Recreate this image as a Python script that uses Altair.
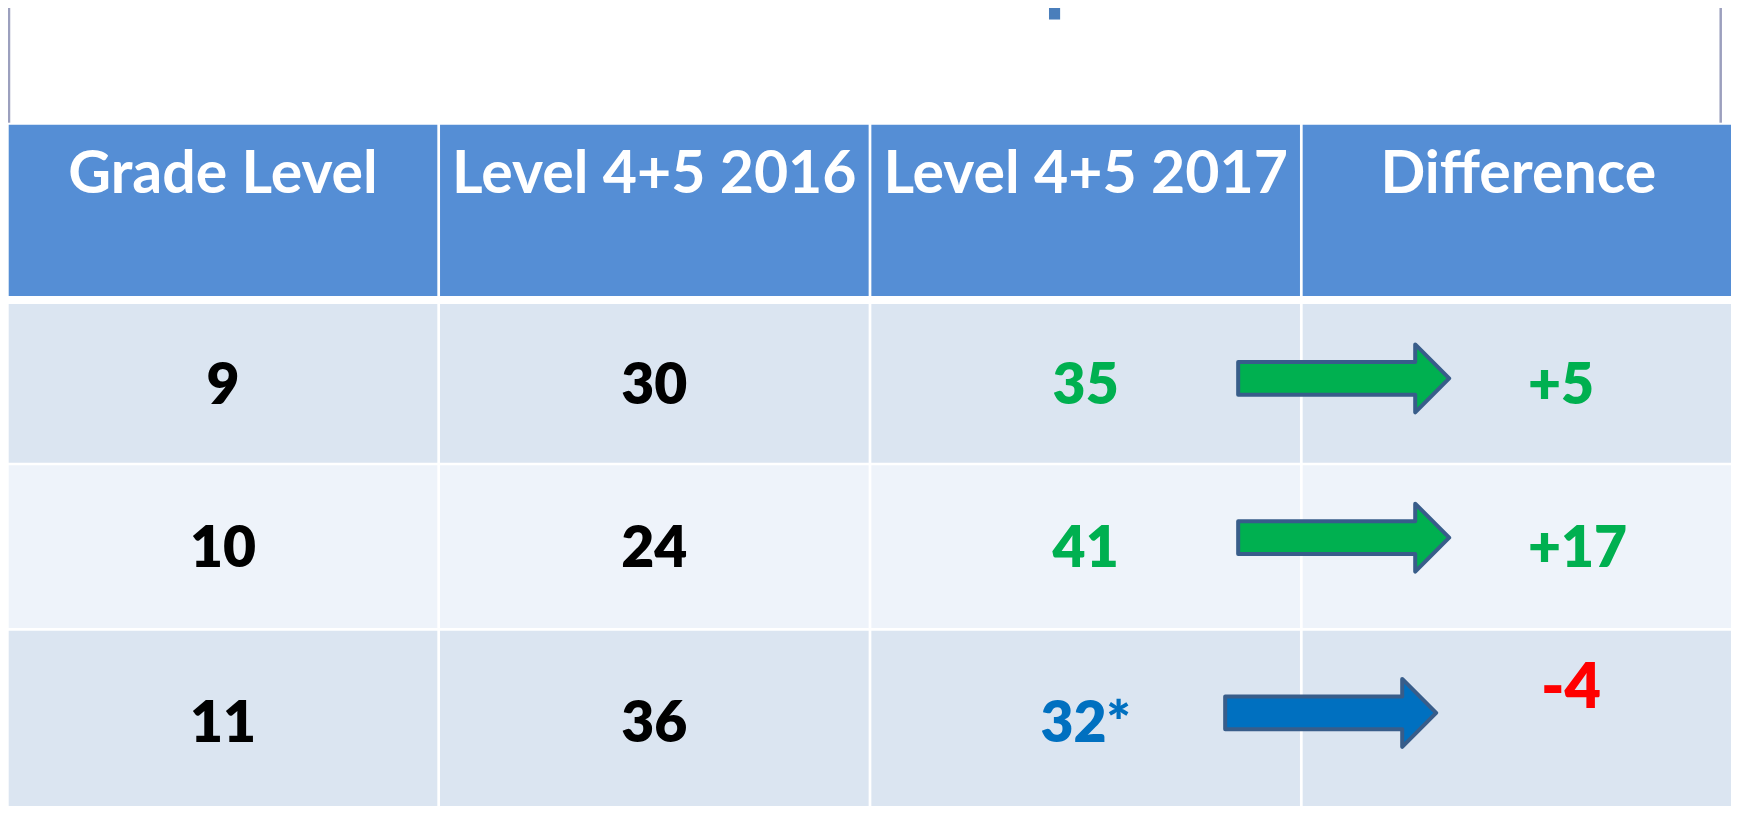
import altair as alt
import pandas as pd

# ---------------- data ----------------
title_text = "Comparison %"
headers = ["Grade Level", "Level 4+5 2016", "Level 4+5 2017", "Difference"]
grades = ["9", "10", "11"]
level_2016 = [30, 24, 36]
level_2017 = [35, 41, 32]
level_2017_note = ["", "", "*"]
difference = [5, 17, -4]

# ---------------- styles ----------------
FONT = "Lato"
BODY_WEIGHT = 800
HEADER_FILL = "#558ED5"
ROW_FILLS = ["#DBE5F1", "#EEF3FA", "#DBE5F1"]
TITLE_COLOR = "#4A7EBB"
FRAME_COLOR = "#9CA0BE"
GREEN = "#00B050"
BLUE = "#0070C0"
RED = "#FF0000"
ARROW_STROKE = "#385D8A"

# ---------------- layout (reference pixel frame) ----------------
PAGE_W, PAGE_H, MARGIN = 1739, 814, 8
CHART_W, CHART_H = PAGE_W - 2 * MARGIN, PAGE_H - 2 * MARGIN
TABLE_LEFT, TABLE_RIGHT = 8.7, 1734
COL_GAP = 2.7
HEADER_Y = (124.7, 296)
ROW_Y = [(304, 462.7), (465.3, 628), (630.7, 813)]
HEADER_BASELINE = 193
DIGIT_HALF = 20.5
DIFF_LEFT = [1528, 1528, 1541]
DIFF_DY = [DIGIT_HALF, DIGIT_HALF, -14]
DIFF_SIZE = [57, 57, 63]
ARROW_DX = [41, 41, 28]
ARROW_DY = [-5, -9, -9]
ARROW_PATH = ("M-1,-0.156 L0.678,-0.156 L0.678,-0.322 L1,0 "
              "L0.678,0.322 L0.678,0.156 L-1,0.156 Z")
ARROW_LEN = 211
TITLE_POS = (1146, 4)
FRAME_X = [9, 1720.7]
FRAME_Y = (0, 122.7)

col_w = (TABLE_RIGHT - TABLE_LEFT) / len(headers)
col_left = [TABLE_LEFT + i * col_w for i in range(len(headers))]
col_right = [l + col_w - COL_GAP for l in col_left[:-1]] + [TABLE_RIGHT]
col_center = [(l + r) / 2 for l, r in zip(col_left, col_right)]
row_center = [(a + b) / 2 for a, b in ROW_Y]

xs = alt.Scale(domain=[MARGIN, MARGIN + CHART_W], range=[0, CHART_W])
ys = alt.Scale(domain=[MARGIN, MARGIN + CHART_H], range=[0, CHART_H])

# ---------------- tables ----------------
cells = []
for i in range(len(headers)):
    cells.append(dict(x=col_left[i], x2=col_right[i], y=HEADER_Y[0], y2=HEADER_Y[1], fill=HEADER_FILL))
    for r, (a, b) in enumerate(ROW_Y):
        cells.append(dict(x=col_left[i], x2=col_right[i], y=a, y2=b, fill=ROW_FILLS[r]))
cells_df = pd.DataFrame(cells)

head_df = pd.DataFrame(dict(x=col_center, y=[HEADER_BASELINE] * len(headers), label=headers))

body = []
for r in range(len(grades)):
    up = difference[r] > 0
    body.append(dict(x=col_center[0], y=row_center[r], label=grades[r], color="#000000"))
    body.append(dict(x=col_center[1], y=row_center[r], label=str(level_2016[r]), color="#000000"))
    body.append(dict(x=col_center[2], y=row_center[r],
                     label=f"{level_2017[r]}{level_2017_note[r]}", color=GREEN if up else BLUE))
body_df = pd.DataFrame(body)

diff_df = pd.DataFrame(dict(
    x=DIFF_LEFT,
    y=[row_center[r] + DIFF_DY[r] for r in range(len(difference))],
    label=[f"{d:+d}" for d in difference],
    color=[GREEN if d > 0 else RED for d in difference],
    size=DIFF_SIZE,
))

arrow_df = pd.DataFrame(dict(
    x=[col_left[3] + ARROW_DX[r] for r in range(len(difference))],
    y=[row_center[r] + ARROW_DY[r] for r in range(len(difference))],
    fill=[GREEN if d > 0 else BLUE for d in difference],
))

title_df = pd.DataFrame(dict(x=[TITLE_POS[0]], y=[TITLE_POS[1]], label=[title_text]))
frame_df = pd.DataFrame(dict(x=FRAME_X, y=[FRAME_Y[0]] * 2, y2=[FRAME_Y[1]] * 2))

X = alt.X("x:Q", scale=xs, axis=None)
Y = alt.Y("y:Q", scale=ys, axis=None)

rects = alt.Chart(cells_df).mark_rect(strokeWidth=0).encode(
    x=X, x2="x2:Q", y=Y, y2="y2:Q", fill=alt.Fill("fill:N", scale=None)
)

head_text = alt.Chart(head_df).mark_text(
    font=FONT, fontWeight="bold", fontSize=59, color="white", align="center", baseline="alphabetic"
).encode(x=X, y=Y, text="label:N")

body_text = alt.Chart(body_df).mark_text(
    font=FONT, fontWeight=BODY_WEIGHT, fontSize=57, align="center", baseline="alphabetic", dy=DIGIT_HALF
).encode(x=X, y=Y, text="label:N", color=alt.Color("color:N", scale=None))

diff_text = alt.Chart(diff_df).mark_text(
    font=FONT, fontWeight=BODY_WEIGHT, align="left", baseline="alphabetic"
).encode(x=X, y=Y, text="label:N", color=alt.Color("color:N", scale=None),
         size=alt.Size("size:Q", scale=None))

arrows = alt.Chart(arrow_df).mark_point(
    shape=ARROW_PATH, size=ARROW_LEN ** 2, filled=True, opacity=1, fillOpacity=1,
    stroke=ARROW_STROKE, strokeWidth=4, strokeJoin="round"
).encode(x=X, y=Y, fill=alt.Fill("fill:N", scale=None))

title = alt.Chart(title_df).mark_text(
    font=FONT, fontWeight="bold", fontSize=90, color=TITLE_COLOR, align="center", baseline="alphabetic"
).encode(x=X, y=Y, text="label:N")

frame = alt.Chart(frame_df).mark_rule(color=FRAME_COLOR, strokeWidth=2.5).encode(
    x=X, y=Y, y2="y2:Q"
)

chart = alt.layer(rects, frame, title, head_text, body_text, diff_text, arrows).properties(
    width=CHART_W, height=CHART_H, padding=0,
    autosize=alt.AutoSizeParams(type="none"),
    background="white",
).configure_view(stroke=None)

chart.save("out.html", embed_options={"renderer": "svg", "actions": False})
